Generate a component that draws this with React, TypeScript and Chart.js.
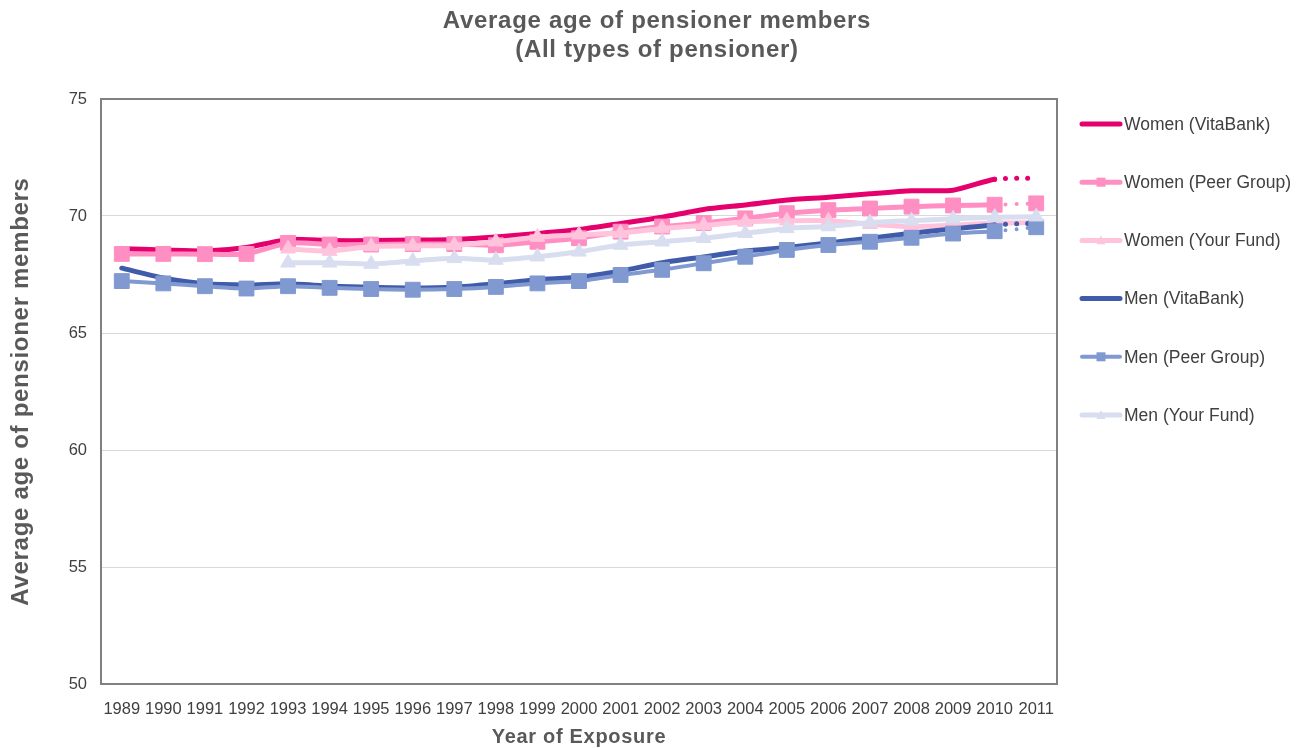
import React, { useEffect, useRef } from "react";
import { Chart, registerables } from "chart.js";

Chart.register(...registerables);

// Exposure years along the category axis
const years = [
  "1989", "1990", "1991", "1992", "1993", "1994", "1995", "1996", "1997", "1998", "1999", "2000",
  "2001", "2002", "2003", "2004", "2005", "2006", "2007", "2008", "2009", "2010", "2011",
];

// Average age of pensioner members by series
const womenVitaBank = [
  68.6, 68.55, 68.5, 68.65, 69.0, 68.95, 68.95, 68.97, 69.0, 69.1, 69.25, 69.42,
  69.68, 69.95, 70.28, 70.47, 70.68, 70.8, 70.95, 71.08, 71.1, 71.57, 71.62,
];
const womenPeerGroup = [
  68.38, 68.38, 68.37, 68.38, 68.85, 68.78, 68.78, 68.8, 68.8, 68.75, 68.9, 69.05,
  69.33, 69.55, 69.7, 69.9, 70.12, 70.25, 70.32, 70.4, 70.45, 70.48, 70.54,
];
const womenYourFund = [
  null, null, null, null, 68.6, 68.5, 68.7, 68.72, 68.75, 68.9, 69.1, 69.2,
  69.27, 69.47, 69.6, 69.75, 69.8, 69.8, 69.65, 69.55, 69.6, 69.7, 69.72,
];
const menVitaBank = [
  67.77, 67.35, 67.1, 67.05, 67.1, 67.0, 66.95, 66.92, 66.95, 67.1, 67.28, 67.38,
  67.65, 68.0, 68.25, 68.5, 68.65, 68.85, 69.05, 69.26, 69.45, 69.62, 69.7,
];
const menPeerGroup = [
  67.22, 67.12, 67.0, 66.9, 67.0, 66.93, 66.88, 66.85, 66.88, 66.97, 67.12, 67.22,
  67.48, 67.7, 67.98, 68.26, 68.55, 68.76, 68.9, 69.07, 69.25, 69.35, 69.52,
];
const menYourFund = [
  null, null, null, null, 68.0, 68.0, 67.95, 68.08, 68.19, 68.12, 68.26, 68.47,
  68.76, 68.9, 69.05, 69.26, 69.47, 69.55, 69.72, 69.8, 69.88, 69.95, 69.97,
];

const seriesNames = [
  "Women (VitaBank)",
  "Women (Peer Group)",
  "Women (Your Fund)",
  "Men (VitaBank)",
  "Men (Peer Group)",
  "Men (Your Fund)",
];

const yTicks = [50, 55, 60, 65, 70, 75];

const FONT = "'Liberation Sans', Arial, sans-serif";
const TEXT_DARK = "#404040";
const TEXT_TITLE = "#595959";

type SeriesStyle = {
  color: string;
  marker: false | "rect" | "triangle";
  dottedTail: boolean;
  width: number;
  dotWidth: number;
};

const styles: SeriesStyle[] = [
  { color: "#E6006E", marker: false, dottedTail: true, width: 5, dotWidth: 5 },
  { color: "#FF8EC2", marker: "rect", dottedTail: true, width: 5, dotWidth: 4 },
  { color: "#FFC3DC", marker: "triangle", dottedTail: false, width: 5, dotWidth: 5 },
  { color: "#3F5BA9", marker: false, dottedTail: true, width: 5, dotWidth: 5 },
  { color: "#8099D1", marker: "rect", dottedTail: true, width: 4, dotWidth: 4 },
  { color: "#D8DEF0", marker: "triangle", dottedTail: false, width: 5, dotWidth: 5 },
];

const seriesData = [womenVitaBank, womenPeerGroup, womenYourFund, menVitaBank, menPeerGroup, menYourFund];

function drawMarker(ctx: CanvasRenderingContext2D, kind: "rect" | "triangle", x: number, y: number, size: number, color: string) {
  ctx.fillStyle = color;
  if (kind === "rect") {
    ctx.fillRect(x - size / 2, y - size / 2, size, size);
  } else {
    const h = size * 0.87;
    ctx.beginPath();
    ctx.moveTo(x, y - h / 2 - 1);
    ctx.lineTo(x + size / 2, y + h / 2);
    ctx.lineTo(x - size / 2, y + h / 2);
    ctx.closePath();
    ctx.fill();
  }
}

// Frame, titles and the legend column on the right
const decorations = {
  id: "decorations",
  beforeDatasetsDraw(chart: any) {
    const { ctx, chartArea: a } = chart;
    ctx.save();
    ctx.strokeStyle = "#808080";
    ctx.lineWidth = 2;
    ctx.strokeRect(a.left, a.top, a.right - a.left, a.bottom - a.top);
    ctx.restore();
  },
  afterDraw(chart: any) {
    const { ctx, chartArea: a } = chart;
    ctx.save();

    // chart title
    ctx.fillStyle = TEXT_TITLE;
    ctx.textAlign = "center";
    ctx.textBaseline = "alphabetic";
    ctx.font = `bold 24px ${FONT}`;
    (ctx as any).letterSpacing = "0.7px";
    ctx.fillText("Average age of pensioner members", 657, 28);
    ctx.fillText("(All types of pensioner)", 657, 57);

    // value axis title
    ctx.save();
    ctx.translate(28, (a.top + a.bottom) / 2);
    ctx.rotate(-Math.PI / 2);
    ctx.fillText("Average age of pensioner members", 0, 0);
    ctx.restore();

    // category axis title
    ctx.font = `bold 20px ${FONT}`;
    (ctx as any).letterSpacing = "0.7px";
    ctx.fillText("Year of Exposure", (a.left + a.right) / 2, 743);
    (ctx as any).letterSpacing = "0px";

    // legend
    const x0 = 1082;
    const x1 = 1120;
    ctx.font = `17.5px ${FONT}`;
    ctx.textAlign = "left";
    ctx.textBaseline = "middle";
    seriesNames.forEach((name, i) => {
      const s = styles[i];
      const y = 124 + i * 58.2;
      ctx.strokeStyle = s.color;
      ctx.lineWidth = s.width;
      ctx.lineCap = "round";
      ctx.beginPath();
      ctx.moveTo(x0, y);
      ctx.lineTo(x1, y);
      ctx.stroke();
      if (s.marker) drawMarker(ctx, s.marker, (x0 + x1) / 2, y, 9, s.color);
      ctx.fillStyle = TEXT_DARK;
      ctx.fillText(name, 1124, y + 1);
    });
    ctx.restore();
  },
};

export default function App() {
  const canvasRef = useRef<HTMLCanvasElement | null>(null);

  useEffect(() => {
    if (!canvasRef.current) return;
    const last = years.length - 1;
    const datasets = seriesData.map((values, i) => {
      const s = styles[i];
      return {
        label: seriesNames[i],
        data: values,
        borderColor: s.color,
        backgroundColor: s.color,
        borderWidth: s.width,
        borderCapStyle: "round" as const,
        borderJoinStyle: "round" as const,
        tension: 0.2,
        fill: false,
        order: seriesData.length - i,
        pointStyle: s.marker || "circle",
        pointRadius: s.marker === "rect" ? 10.5 : s.marker === "triangle" ? 8.5 : 0,
        pointHoverRadius: 0,
        pointBorderWidth: 1,
        pointBorderColor: s.color,
        pointBackgroundColor: s.color,
        segment: s.dottedTail
          ? {
              borderDash: (c: any) => (c.p1DataIndex === last ? [0, 11] : undefined),
              borderWidth: (c: any) => (c.p1DataIndex === last ? s.dotWidth : undefined),
            }
          : undefined,
      };
    });

    const chart = new Chart(canvasRef.current, {
      type: "line",
      data: { labels: years, datasets: datasets as any },
      options: {
        animation: false,
        responsive: false,
        layout: { padding: { top: 99, right: 249, left: 0, bottom: 0 } },
        plugins: {
          legend: { display: false },
          title: { display: false },
          tooltip: { enabled: false },
        },
        scales: {
          x: {
            offset: true,
            grid: { display: false, drawTicks: false },
            border: { display: false },
            ticks: {
              font: { family: FONT, size: 16.5 },
              color: TEXT_DARK,
              padding: 16,
              maxRotation: 0,
              autoSkip: false,
            },
            afterFit: (s: any) => {
              s.height = 64;
            },
          },
          y: {
            min: yTicks[0],
            max: yTicks[yTicks.length - 1],
            afterBuildTicks: (s: any) => {
              s.ticks = yTicks.map((v) => ({ value: v }));
            },
            grid: {
              drawTicks: false,
              lineWidth: 1,
              color: (c: any) =>
                c.tick && (c.tick.value === yTicks[0] || c.tick.value === yTicks[yTicks.length - 1])
                  ? "rgba(0,0,0,0)"
                  : "#D9D9D9",
            },
            border: { display: false },
            ticks: {
              font: { family: FONT, size: 16.5 },
              color: TEXT_DARK,
              padding: 14,
            },
            afterFit: (s: any) => {
              s.width = 101;
            },
          },
        },
      },
      plugins: [decorations],
    });
    return () => chart.destroy();
  }, []);

  return (
    <div style={{ position: "absolute", left: 0, top: 0, width: 1306, height: 748, background: "#fff" }}>
      <canvas ref={canvasRef} width={1306} height={748} style={{ display: "block" }} />
    </div>
  );
}
